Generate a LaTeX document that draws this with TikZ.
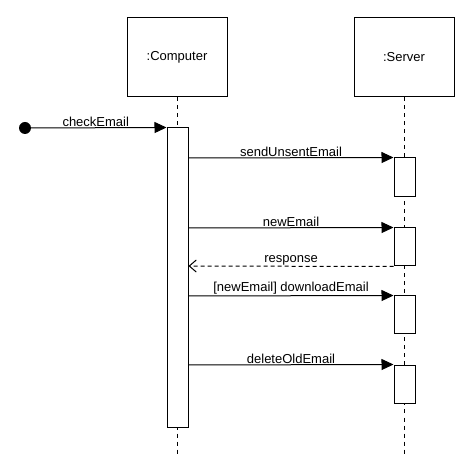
\documentclass[tikz,border=0pt]{standalone}
\usepackage{fontspec}
\setmainfont{Liberation Sans}
\usetikzlibrary{arrows.meta}
\begin{document}
\begin{tikzpicture}[x=1pt,y=-1pt,line width=1pt,
  obj/.style={draw,minimum width=100pt,minimum height=79pt,inner sep=0pt,font=\fontsize{13}{15}\selectfont},
  act/.style={draw,fill=white,minimum width=21pt,inner sep=0pt},
  life/.style={dash pattern=on 4pt off 4pt},
  msg/.style={-{Triangle[length=12pt,width=11pt]}},
  ret/.style={dash pattern=on 4pt off 3pt,-{Straight Barb[length=7pt,width=12pt]}},
  lbl/.style={font=\fontsize{13}{15}\selectfont,above,inner sep=1pt}]
\useasboundingbox (0,0) rectangle (474,470);
\node[obj] (comp) at (177,57.5) {:Computer};
\node[obj] (serv) at (404,57.5) {:Server};
\coordinate (ce) at (177,455);
\coordinate (se) at (404,455);
\draw[life] (comp.south) -- (ce);
\draw[life] (serv.south) -- (se);
\node[act,minimum height=299pt] (ca) at (177.5,277.5) {};
\node[act,minimum height=39pt] (s1) at (404.5,177.5) {};
\node[act,minimum height=38pt] (s2) at (404.5,247) {};
\node[act,minimum height=38pt] (s3) at (404.5,315) {};
\node[act,minimum height=38pt] (s4) at (404.5,384) {};
\fill (25,128) circle (6pt) coordinate (start);
\draw[msg] (start) -- node[lbl] {checkEmail} (ca.north west);
\draw[msg] (ca.east |- 0,158) -- node[lbl] {sendUnsentEmail} (s1.north west);
\draw[msg] (ca.east |- 0,228) -- node[lbl] {newEmail} (s2.north west);
\draw[ret] (s2.south west) -- node[lbl] {response} (ca.east |- 0,266);
\draw[msg] (ca.east |- 0,296) -- node[lbl] {[newEmail] downloadEmail} (s3.north west);
\draw[msg] (ca.east |- 0,365) -- node[lbl] {deleteOldEmail} (s4.north west);
\end{tikzpicture}
\end{document}
